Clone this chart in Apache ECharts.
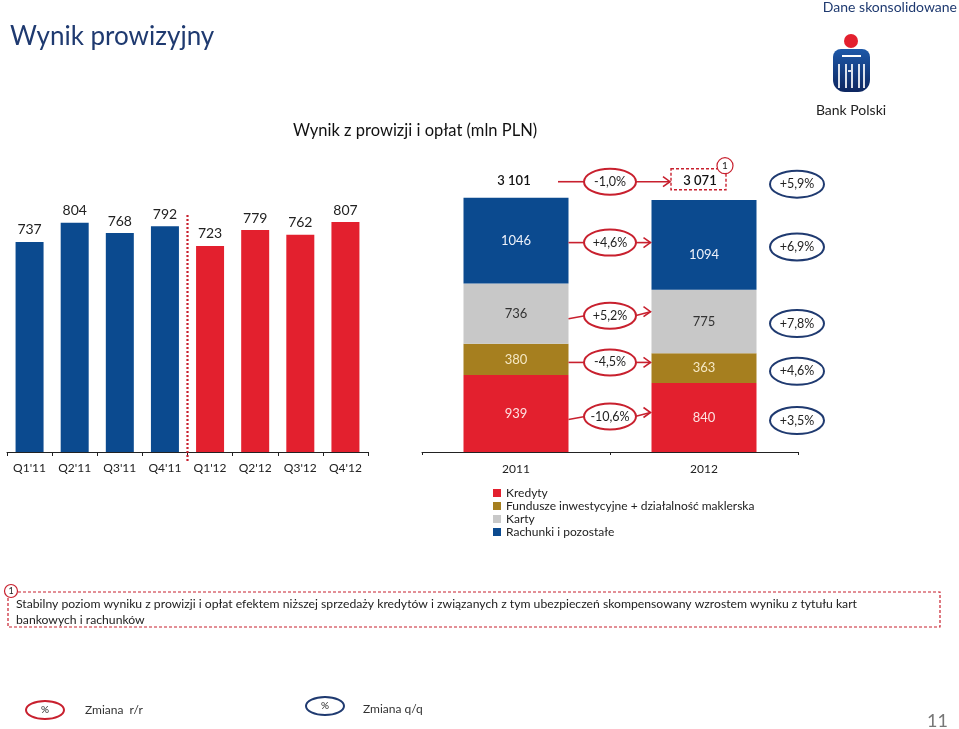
<!DOCTYPE html>
<html><head><meta charset="utf-8">
<script src="https://cdn.jsdelivr.net/npm/echarts@6/dist/echarts.min.js"></script>
<style>html,body{margin:0;padding:0;background:#fff}#c{width:959px;height:729px}</style>
</head><body><div id="c"></div>
<script>
// ---- data ----
const quarters = ["Q1'11","Q2'11","Q3'11","Q4'11","Q1'12","Q2'12","Q3'12","Q4'12"];
const quarterValues = [737, 804, 768, 792, 723, 779, 762, 807];
const years = ['2011', '2012'];
const kredyty = [939, 840];
const fundusze = [380, 363];
const karty = [736, 775];
const rachunki = [1046, 1094];
const totals = [3101, 3071];
const totalLabels = ['3 101', '3 071'];
const segmentNames = ['Kredyty', 'Fundusze inwestycyjne + działalność maklerska', 'Karty', 'Rachunki i pozostałe'];
// rows: total, rachunki, karty, fundusze, kredyty
const yoyLabels = ['-1,0%', '+4,6%', '+5,2%', '-4,5%', '-10,6%'];
const qoqLabels = ['+5,9%', '+6,9%', '+7,8%', '+4,6%', '+3,5%'];
const footnote1 = 'Stabilny poziom wyniku z prowizji i opłat efektem niższej sprzedaży kredytów i związanych z tym ubezpieczeń skompensowany wzrostem wyniku z tytułu kart';
const footnote2 = 'bankowych i rachunków';

const BLUE = '#0b4a8f', RED = '#e3202e', GOLD = '#a67f1f', GRAY = '#c8c8c8', NAVY = '#1f3a70', ORED = '#c8202e';
const FONT = 'Lato, "Open Sans", sans-serif';

const chart = echarts.init(document.getElementById('c'), null, {renderer: 'canvas'});

const segData = [kredyty, fundusze, karty, rachunki];
const segColors = [RED, GOLD, GRAY, BLUE];
const segLabelColors = ['#fde2e2', '#f5e8c4', '#333333', '#eef2fa'];

const stackSeries = segData.map((arr, k) => ({
  name: segmentNames[k], type: 'bar', stack: 'y', xAxisIndex: 1, yAxisIndex: 1,
  barWidth: 105, itemStyle: {color: segColors[k]},
  label: {show: true, position: 'inside', color: segLabelColors[k], fontSize: 13, fontFamily: FONT},
  data: arr.map((v, i) => (k === 3 && i === 1) ? {value: v, label: {offset: [0, 10]}} : v)
}));

chart.setOption({
  animation: false,
  textStyle: {fontFamily: FONT},
  grid: [
    {left: 7, right: 591, top: 167, bottom: 277},
    {left: 422, right: 161, top: 165, bottom: 277}
  ],
  legend: {
    orient: 'vertical', left: 488, top: 482, itemWidth: 8, itemHeight: 8, itemGap: 1,
    icon: 'rect', selectedMode: false,
    textStyle: {fontSize: 12, color: '#222', fontFamily: FONT},
    data: segmentNames
  },
  xAxis: [
    {type: 'category', gridIndex: 0, data: quarters,
     axisLine: {lineStyle: {color: '#222'}}, axisTick: {show: true, length: 4, lineStyle: {color: '#222'}},
     axisLabel: {color: '#222', fontSize: 12, margin: 10, fontFamily: FONT}},
    {type: 'category', gridIndex: 1, data: years,
     axisLine: {lineStyle: {color: '#222'}}, axisTick: {show: true, length: 3, lineStyle: {color: '#222'}},
     axisLabel: {color: '#222', fontSize: 12, margin: 11, fontFamily: FONT}}
  ],
  yAxis: [
    {type: 'value', gridIndex: 0, min: 0, max: 1000, show: false},
    {type: 'value', gridIndex: 1, min: 0, max: 3500, show: false}
  ],
  series: [
    {type: 'bar', xAxisIndex: 0, yAxisIndex: 0, barWidth: 28,
     itemStyle: {color: p => p.dataIndex < 4 ? BLUE : RED},
     label: {show: true, position: 'top', distance: 5, color: '#222', fontSize: 14, fontFamily: FONT},
     data: quarterValues}
  ].concat(stackSeries)
});

// ---- annotations computed from the scales ----
const g = [];
const px = (xi, v) => chart.convertToPixel({xAxisIndex: 1, yAxisIndex: 1}, [xi, v]);
const c0 = px(0, 0)[0], c1 = px(1, 0)[0];
const half = 52.5;
const midX = (c0 + c1) / 2;
const qX = c1 + (c1 - c0) / 2;

function rowYs(i) {
  const b1 = kredyty[i], b2 = b1 + fundusze[i], b3 = b2 + karty[i], b4 = b3 + rachunki[i];
  const y = v => px(i, v)[1];
  return [y(totals[i]) - 16, y((b3 + b4) / 2) + 2, y((b2 + b3) / 2) + 2, y((b1 + b2) / 2) + 3, y(b1 / 2) + 3];
}
const ys0 = rowYs(0), ys1 = rowYs(1);

function ellipse(cx, cy, color, text, rx, ry, fs) {
  g.push({type: 'ellipse', shape: {cx: cx, cy: cy, rx: rx || 26, ry: ry || 13},
          style: {fill: '#fff', stroke: color, lineWidth: 2}, z: 10});
  g.push({type: 'text', z: 11, style: {text: text, x: cx, y: cy, align: 'center', verticalAlign: 'middle',
          font: (fs || 12.5) + 'px ' + FONT, fill: '#222'}});
}
function arrowLine(x1, y1, x2, y2, head) {
  g.push({type: 'line', z: 9, shape: {x1: x1, y1: y1, x2: x2, y2: y2}, style: {stroke: ORED, lineWidth: 1.6}});
  if (head) g.push({type: 'polyline', z: 9, shape: {points: [[x2 - 7, y2 - 5], [x2, y2], [x2 - 7, y2 + 5]]},
                    style: {stroke: ORED, lineWidth: 1.6, fill: null}});
}

// total labels
g.push({type: 'text', style: {text: totalLabels[0], x: c0 - 2, y: ys0[0] - 1, align: 'center', verticalAlign: 'middle',
        font: '600 13px ' + FONT, fill: '#111'}});
g.push({type: 'text', style: {text: totalLabels[1], x: c1 - 4, y: ys0[0] - 1, align: 'center', verticalAlign: 'middle',
        font: '600 13px ' + FONT, fill: '#111'}});
// dashed box + footnote marker
g.push({type: 'rect', shape: {x: c1 - 33, y: ys0[0] - 13, width: 55, height: 21},
        style: {fill: null, stroke: ORED, lineWidth: 1.4, lineDash: [3, 2]}});
g.push({type: 'circle', z: 12, shape: {cx: c1 + 21, cy: ys0[0] - 16, r: 8}, style: {fill: '#fff', stroke: ORED, lineWidth: 1.2}});
g.push({type: 'text', z: 13, style: {text: '1', x: c1 + 21, y: ys0[0] - 16, align: 'center', verticalAlign: 'middle', font: '10px ' + FONT, fill: '#222'}});

for (let r = 0; r < 5; r++) {
  const yL = ys0[r];
  const startX = r === 0 ? c0 + 42 : c0 + half;
  const endX = r === 0 ? c1 - 34 : c1 - half - 1;
  arrowLine(startX, yL + (r === 2 || r === 4 ? 3 : 0), midX - 25, yL, false);
  arrowLine(midX + 25, yL, endX, r === 2 || r === 4 ? yL - 4 : yL, true);
  ellipse(midX, yL, ORED, yoyLabels[r]);
  ellipse(qX - 1, ys1[r], NAVY, qoqLabels[r], 27, 13.5);
}

// dotted separator between 2011 and 2012 quarters
const q3 = chart.convertToPixel({xAxisIndex: 0, yAxisIndex: 0}, [3, 0]);
const q4 = chart.convertToPixel({xAxisIndex: 0, yAxisIndex: 0}, [4, 0]);
g.push({type: 'line', shape: {x1: (q3[0] + q4[0]) / 2, y1: 215, x2: (q3[0] + q4[0]) / 2, y2: 462},
        style: {stroke: ORED, lineWidth: 2.2, lineDash: [2, 2]}, z: 5});

// titles
g.push({type: 'text', style: {text: 'Wynik prowizyjny', x: 10, y: 37, verticalAlign: 'middle', font: '26px ' + FONT, fill: NAVY}});
g.push({type: 'text', style: {text: 'Dane skonsolidowane', x: 957, y: 7, align: 'right', verticalAlign: 'middle', font: '14px ' + FONT, fill: NAVY}});
g.push({type: 'text', style: {text: 'Wynik z prowizji i opłat (mln PLN)', x: 293, y: 131, verticalAlign: 'middle', font: '16.5px ' + FONT, fill: '#111'}});
// logo
g.push({type: 'circle', shape: {cx: 851, cy: 41, r: 7}, style: {fill: '#e3202e'}});
g.push({type: 'rect', shape: {x: 833, y: 49, width: 37, height: 43, r: [8, 8, 12, 12]},
        style: {fill: new echarts.graphic.LinearGradient(0, 0, 0, 1, [{offset: 0, color: '#1d58a8'}, {offset: 1, color: '#0d2660'}])}});
g.push({type: 'rect', shape: {x: 842, y: 55, width: 19, height: 2}, style: {fill: '#fff'}});
[[838, 64, 2, 24], [845, 64, 2, 24], [848, 70, 3, 2], [851, 64, 2, 24], [858, 64, 2, 24], [863, 64, 2, 24]].forEach(a =>
  g.push({type: 'rect', shape: {x: a[0], y: a[1], width: a[2], height: a[3]}, style: {fill: 'rgba(255,255,255,0.85)'}}));
g.push({type: 'text', style: {text: 'Bank Polski', x: 851, y: 110, align: 'center', verticalAlign: 'middle', font: '14px ' + FONT, fill: '#222'}});

// footnote
g.push({type: 'rect', shape: {x: 8, y: 592, width: 932, height: 35}, style: {fill: null, stroke: ORED, lineWidth: 1.2, lineDash: [3, 2]}});
g.push({type: 'circle', z: 12, shape: {cx: 11, cy: 591, r: 6.5}, style: {fill: '#fff', stroke: ORED, lineWidth: 1.2}});
g.push({type: 'text', z: 13, style: {text: '1', x: 11, y: 591, align: 'center', verticalAlign: 'middle', font: '9px ' + FONT, fill: '#222'}});
g.push({type: 'text', style: {text: footnote1, x: 16, y: 604, verticalAlign: 'middle', font: '12.2px ' + FONT, fill: '#222'}});
g.push({type: 'text', style: {text: footnote2, x: 16, y: 620, verticalAlign: 'middle', font: '12.2px ' + FONT, fill: '#222'}});

// bottom key
ellipse(45, 710, ORED, '%', 19, 9, 10);
g.push({type: 'text', style: {text: 'Zmiana  r/r', x: 85, y: 710, verticalAlign: 'middle', font: '12px ' + FONT, fill: '#333'}});
ellipse(325, 706, NAVY, '%', 19, 9, 10);
g.push({type: 'text', style: {text: 'Zmiana q/q', x: 363, y: 709, verticalAlign: 'middle', font: '12px ' + FONT, fill: '#333'}});
g.push({type: 'text', style: {text: '11', x: 948, y: 721, align: 'right', verticalAlign: 'middle', font: '18px ' + FONT, fill: '#777'}});

chart.setOption({graphic: g});
</script>
</body></html>
